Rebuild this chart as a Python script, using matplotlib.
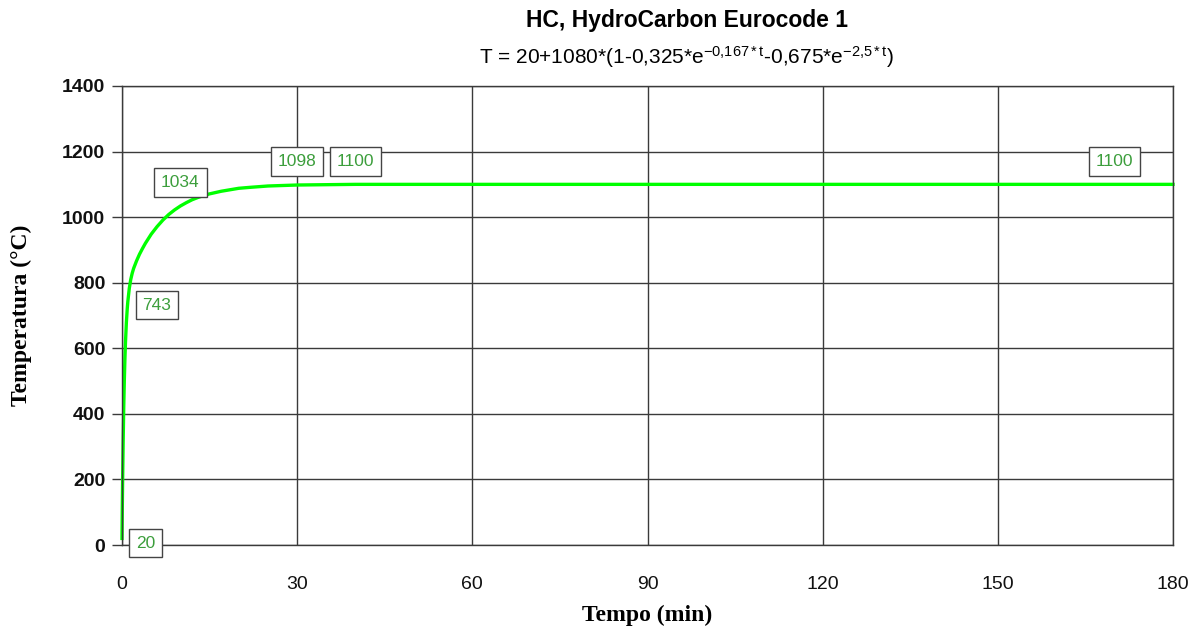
import matplotlib
matplotlib.use("Agg")
import matplotlib.pyplot as plt

# time (min) and temperature (°C)
tempo = [0, 0.05, 0.1, 0.2, 0.3, 0.4, 0.5, 0.6, 0.75, 0.9, 1, 1.25, 1.5, 1.75, 2, 2.5,
         3, 3.5, 4, 5, 6, 7, 8, 9, 10, 11, 12, 13, 14, 15, 17, 20, 22, 25, 30, 35, 40,
         60, 90, 120, 150, 180]
temperatura = [20, 109, 187, 318, 422, 503, 568, 620, 679, 721, 743, 783, 810, 829,
               844, 867, 887, 904, 920, 948, 971, 991, 1008, 1022, 1034, 1044, 1053,
               1060, 1066, 1071, 1079, 1088, 1091, 1095, 1098, 1099, 1100, 1100, 1100,
               1100, 1100, 1100]

# point labels: (x, y) where the box sits, text
etichette_x = [4, 6, 10, 30, 40, 170]
etichette_y = [6, 732, 1107, 1171, 1171, 1171]
etichette_txt = ["20", "743", "1034", "1098", "1100", "1100"]

x_ticks = [0, 30, 60, 90, 120, 150, 180]
y_ticks = [0, 200, 400, 600, 800, 1000, 1200, 1400]

plt.rcParams["font.family"] = ["Liberation Sans", "DejaVu Sans"]
plt.rcParams["mathtext.fontset"] = "custom"
plt.rcParams["mathtext.rm"] = "Liberation Sans"
plt.rcParams["mathtext.it"] = "Liberation Sans"

fig = plt.figure(figsize=(11.95, 6.3), dpi=100)
ax = fig.add_axes([122 / 1195, 1 - 545 / 630, (1173 - 122) / 1195, (545 - 86) / 630])

grid_col = "#3a3a3a"
ax.plot(tempo, temperatura, color="#00ff00", lw=2.4, zorder=3, clip_on=False,
        solid_joinstyle="round")

ax.set_xlim(0, 180)
ax.set_ylim(0, 1400)
ax.set_xticks(x_ticks)
ax.set_yticks(y_ticks)
ax.grid(True, color=grid_col, lw=1.0)
ax.set_axisbelow(True)
for s in ax.spines.values():
    s.set_color(grid_col)
    s.set_linewidth(1.0)
    s.set_zorder(4)

ax.tick_params(axis="x", length=0, pad=22, labelsize=14, colors="#111111")
ax.tick_params(axis="y", length=7, width=1.0, color=grid_col, pad=5, labelsize=14,
               labelcolor="#111111")
for lab in ax.get_yticklabels():
    lab.set_fontweight("bold")

for x, y, t in zip(etichette_x, etichette_y, etichette_txt):
    ax.text(x, y, t, ha="center", va="center", fontsize=12.5, color="#3c9e3c", zorder=5,
            bbox=dict(boxstyle="square,pad=0.4", fc="white", ec="#444444", lw=1.0))

ax.set_xlabel("Tempo (min)", family="Liberation Serif", fontweight="bold", fontsize=17,
              labelpad=9)
ax.set_ylabel("Temperatura (°C)", family="Liberation Serif", fontweight="bold",
              fontsize=17, labelpad=22)

fig.text(687 / 1195, 1 - 20 / 630, "HC, HydroCarbon Eurocode 1", ha="center",
         va="center", fontsize=16.5, fontweight="bold")
fig.text(687 / 1195, 1 - 57 / 630,
         r"T = 20+1080*(1-0,325*e$^{\mathregular{-0{,}167*t}}$-0,675*e$^{\mathregular{-2{,}5*t}}$)",
         ha="center", va="center", fontsize=15)

fig.savefig("out.png", dpi=100)
